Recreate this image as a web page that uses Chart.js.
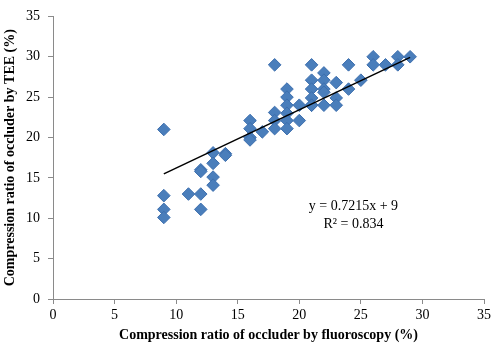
<!DOCTYPE html>
<html>
<head>
<meta charset="utf-8">
<script src="https://cdn.jsdelivr.net/npm/chart.js@4/dist/chart.umd.min.js"></script>
<style>
  html, body { margin: 0; padding: 0; background: #fff; }
  #wrap { width: 500px; height: 352px; position: relative; }
</style>
</head>
<body>
<div id="wrap"><canvas id="grafica"></canvas></div>
<script>
// =================== Datos ===================
// compresión por fluoroscopia (%) -> eje x
const fluoro = [
  9, 9, 9, 9,
  11,
  12, 12, 12, 12,
  13, 13, 13, 13,
  14, 14,
  16, 16, 16, 16,
  17,
  18, 18, 18, 18,
  19, 19, 19, 19, 19, 19,
  20, 20,
  21, 21, 21, 21, 21, 21,
  22, 22, 22, 22, 22,
  23, 23, 23,
  24, 24,
  25,
  26, 26,
  27,
  28, 28,
  29
];
// compresión por TEE (%) -> eje y
const tee = [
  21, 12.8, 11.1, 10.1,
  13,
  16, 15.8, 13, 11.1,
  18.1, 16.8, 15.1, 14.1,
  18, 17.8,
  22.1, 21.1, 20, 19.7,
  20.7,
  29, 23.1, 22.1, 21.1,
  26, 25, 24, 23, 22.1, 21.1,
  24, 22.1,
  29, 27.1, 26, 24.9, 24, 24,
  28, 27.1, 26, 25.6, 24,
  26.8, 24.9, 24,
  29, 26,
  27.1,
  30, 29,
  29,
  30, 29,
  30
];

// recta de tendencia (extremos)
const trendX = [9, 29];
const trendY = [15.49, 29.92];

const xTicks = [0, 5, 10, 15, 20, 25, 30, 35];
const yTicks = [0, 5, 10, 15, 20, 25, 30, 35];

const ecuacion = ["y = 0.7215x + 9", "R\u00b2 = 0.834"];

// =================== Helpers ===================
const SERIF = "'Liberation Serif', 'Times New Roman', serif";
const GRIS = "#8a8a8a";

const puntos = fluoro.map((x, i) => ({ x, y: tee[i] }));
const tendencia = trendX.map((x, i) => ({ x, y: trendY[i] }));

// texto de la ecuación, cerca de (24.4, 11.5) en datos
const pluginEcuacion = {
  id: "ecuacion",
  afterDatasetsDraw(chart) {
    const { ctx, scales } = chart;
    const cx = scales.x.getPixelForValue(24.4);
    const cy = scales.y.getPixelForValue(11.5);
    ctx.save();
    ctx.fillStyle = "#000";
    ctx.font = "14px " + SERIF;
    ctx.textAlign = "center";
    ctx.textBaseline = "middle";
    ctx.fillText(ecuacion[0], cx, cy);
    ctx.fillText(ecuacion[1], cx, cy + 18);
    ctx.restore();
  }
};

// =================== Chart ===================
const ctx = document.getElementById("grafica").getContext("2d");

new Chart(ctx, {
  type: "scatter",
  data: {
    datasets: [
      {
        type: "line",
        data: tendencia,
        borderColor: "#000",
        borderWidth: 1.5,
        pointRadius: 0,
        fill: false,
        order: 0
      },
      {
        data: puntos,
        pointStyle: "rectRot",
        pointRadius: 6.3,
        backgroundColor: "#4a7ebb",
        borderColor: "#3d6fae",
        borderWidth: 1,
        order: 1
      }
    ]
  },
  options: {
    responsive: true,
    maintainAspectRatio: false,
    animation: false,
    layout: { padding: { left: 0, right: 16, top: 7, bottom: 0 } },
    plugins: { legend: { display: false }, tooltip: { enabled: false } },
    scales: {
      x: {
        type: "linear",
        min: 0,
        max: 35,
        afterBuildTicks: (s) => { s.ticks = xTicks.map(v => ({ value: v })); },
        afterFit: (s) => { s.height = 53; },
        grid: { drawOnChartArea: false, drawTicks: true, tickLength: 5, color: GRIS },
        border: { color: GRIS, width: 1 },
        ticks: { color: "#000", padding: 3, font: { family: SERIF, size: 14 } },
        title: {
          display: true,
          text: "Compression ratio of occluder by fluoroscopy (%)",
          color: "#000",
          font: { family: SERIF, size: 14, weight: "bold" },
          padding: { top: 0, bottom: 8 }
        }
      },
      y: {
        type: "linear",
        min: 0,
        max: 35,
        afterBuildTicks: (s) => { s.ticks = yTicks.map(v => ({ value: v })); },
        afterFit: (s) => { s.width = 53; },
        grid: { drawOnChartArea: false, drawTicks: true, tickLength: 5, color: GRIS },
        border: { color: GRIS, width: 1 },
        ticks: { color: "#000", padding: 8, font: { family: SERIF, size: 14 } },
        title: {
          display: true,
          text: "Compression ratio of occluder by TEE (%)",
          color: "#000",
          font: { family: SERIF, size: 14, weight: "bold" },
          padding: { top: 2, bottom: 0 }
        }
      }
    }
  },
  plugins: [pluginEcuacion]
});
</script>
</body>
</html>
